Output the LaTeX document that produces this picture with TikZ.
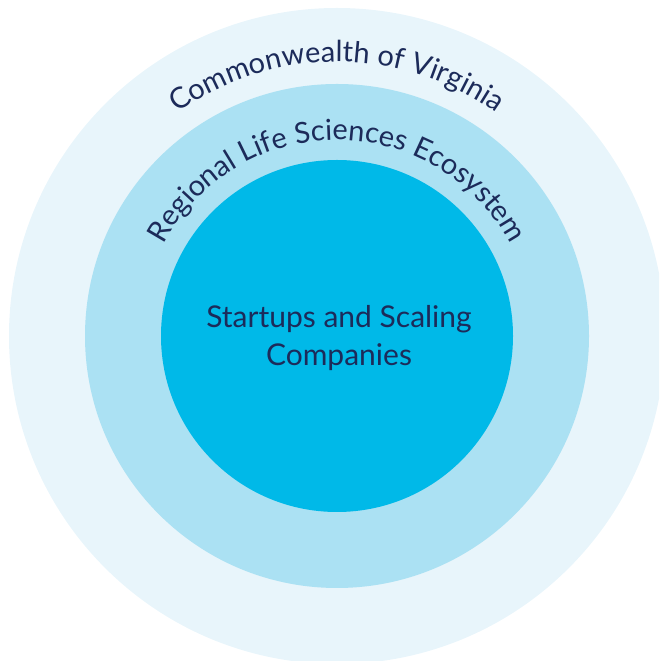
\documentclass[tikz,border=0pt]{standalone}
\usepackage{fontspec}
\setmainfont{Lato}
\usetikzlibrary{decorations.text}
\definecolor{ringout}{HTML}{E8F5FB}
\definecolor{ringmid}{HTML}{ABE1F3}
\definecolor{ringin}{HTML}{00B9E8}
\definecolor{navy}{HTML}{1C2B5A}
\tikzset{
  ring/.style={draw=none},
  arclabel/.style={decorate, decoration={text along path, text align=center, text color=navy}},
}
\begin{document}
\begin{tikzpicture}[x=1pt,y=1pt]
\useasboundingbox (0,0) rectangle (659,661);
\clip (0,0) rectangle (659,661);
\coordinate (c) at (337,325);
\fill[ringout] (c) circle[radius=328pt];
\fill[ringmid] (c) circle[radius=252pt];
\fill[ringin] (c) circle[radius=176pt];
\path[arclabel, decoration={text={|\fontsize{29}{34}\selectfont|Commonwealth of Virginia}}]
  ([shift={(170:274pt)}]c) arc[start angle=170, end angle=10, radius=274pt];
\path[arclabel, decoration={text={|\fontsize{29}{34}\selectfont|Regional Life Sciences Ecosystem}}]
  ([shift={(175:196pt)}]c) arc[start angle=175, end angle=5, radius=196pt];
\node[text=navy, font=\fontsize{30}{38}\selectfont, align=center] (core) at (339,323) {Startups and Scaling\\Companies};
\end{tikzpicture}
\end{document}
